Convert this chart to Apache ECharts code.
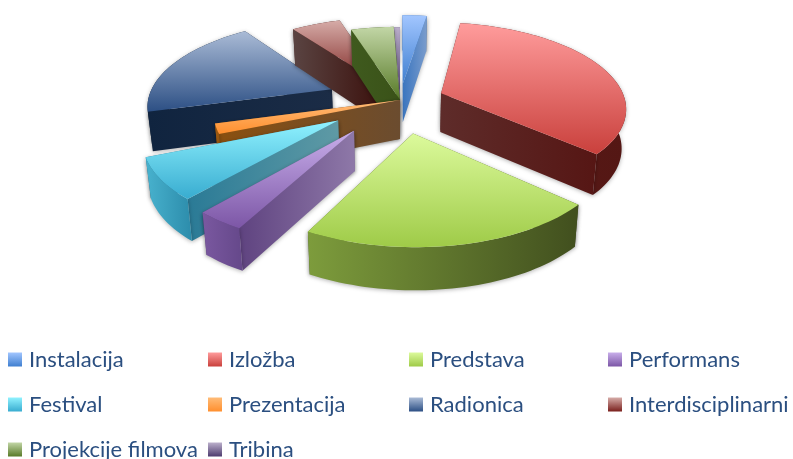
<!DOCTYPE html>
<html>
<head>
<meta charset="utf-8">
<style>html,body{margin:0;padding:0;background:#fff}#chart{width:793px;height:459px}</style>
<script src="https://cdn.jsdelivr.net/npm/echarts@6/dist/echarts.min.js"></script>
</head>
<body>
<div id="chart"></div>
<script>
// share of events per type (percent)
const categories = ["Instalacija", "Izložba", "Predstava", "Performans", "Festival", "Prezentacija", "Radionica", "Interdisciplinarni", "Projekcije filmova", "Tribina"];
const values = [2.5, 34.1, 21.1, 3.5, 7.5, 1.9, 19.3, 5.1, 4.3, 0.6];
// how far each slice is pulled out, as a fraction of the radius
const explode = [0.2, 0.24, 0.38, 0.42, 0.4, 0, 0.4, 0.18, 0.01, 0];

// back to front
const drawOrder = [6, 7, 9, 8, 0, 5, 1, 4, 3, 2];

const topColors = [
  ["#a2c6ff", "#3f7fd0"], ["#ff9c9c", "#c9403c"], ["#dcfa9c", "#9fcb48"], ["#c8aeea", "#7c56a6"], ["#90f2ff", "#38acd0"],
  ["#ffbc78", "#ff8f2e"], ["#aabbd6", "#2c4f84"], ["#d6aca8", "#7a1f1c"], ["#c2d6a6", "#587a28"], ["#bcb0cc", "#4d3b6e"]
];
const arcColors = [
  ["#3a75bf", "#3a75bf"], ["#5a1a18", "#541714"], ["#7d9c3c", "#414f1e"], ["#7a58a0", "#65488a"], ["#48b2ce", "#2c8cab"],
  ["#a05a10", "#8a5010"], ["#0f2036", "#10233c"], ["#5a2a28", "#3a0e0a"], ["#4a6a22", "#3a5218"], ["#5a4878", "#5a4878"]
];
const wallColors = [
  ["#3a75bf", "#7a9ccc"], ["#5e2c2a", "#561614"], ["#5a7428", "#414f1e"], ["#5f4380", "#8e78a8"], ["#2a7a96", "#5f9aa5"],
  ["#8a5010", "#6b4c2f"], ["#10243f", "#1b2c46"], ["#5a4442", "#3a0e0a"], ["#3f5a1e", "#3a5218"], ["#6d5a85", "#8a7a9e"]
];

const total = values.reduce((a, b) => a + b, 0);
const cx = 400, cy = 100, W = 184, H = 84, K = 0.157, DEPTH = 39;

function project(u, v, low) {
  const s = 1 / (1 - K * v);
  const x = cx + W * u * s * (low ? 0.98 : 1);
  const y = cy + H * v * s + (low ? DEPTH + 3 * v : 0);
  return [x, y];
}

function linear(stops, vertical) {
  return {
    type: "linear", x: 0, y: 0, x2: vertical ? 0 : 1, y2: vertical ? 1 : 0,
    colorStops: [{ offset: 0, color: stops[0] }, { offset: 1, color: stops[1] }]
  };
}

// Build the wedge for one slice from its value
function sliceChildren(index) {
  let from = 0;
  for (let i = 0; i < index; i++) from += values[i];
  const a0 = (from / total) * Math.PI * 2;
  const a1 = ((from + values[index]) / total) * Math.PI * 2;
  const mid = (a0 + a1) / 2;
  const ox = explode[index] * Math.sin(mid);
  const oy = -explode[index] * Math.cos(mid);

  const steps = Math.max(2, Math.ceil((a1 - a0) / 0.03));
  const rim = [];
  for (let i = 0; i <= steps; i++) {
    const a = a0 + ((a1 - a0) * i) / steps;
    rim.push([ox + Math.sin(a), oy - Math.cos(a)]);
  }
  const upper = (p) => project(p[0], p[1], false);
  const lower = (p) => project(p[0], p[1], true);
  const apex = [ox, oy];
  const first = rim[0];
  const last = rim[rim.length - 1];

  const shadow = { shadowBlur: 4, shadowColor: "rgba(0,0,0,0.3)", shadowOffsetY: 1 };
  const walls = [
    { pts: [upper(apex), upper(first), lower(first), lower(apex)], fill: linear(wallColors[index]) },
    { pts: [upper(apex), upper(last), lower(last), lower(apex)], fill: linear(wallColors[index]) },
    { pts: rim.map(upper).concat(rim.slice().reverse().map(lower)), fill: linear(arcColors[index]) }
  ];
  const meanY = (pts) => pts.reduce((s, p) => s + p[1], 0) / pts.length;
  walls.sort((a, b) => meanY(a.pts) - meanY(b.pts));

  const children = walls.map((w) => ({
    type: "polygon",
    shape: { points: w.pts },
    style: Object.assign({ fill: w.fill }, shadow)
  }));
  children.push({
    type: "polygon",
    shape: { points: [upper(apex)].concat(rim.map(upper)) },
    style: { fill: linear(topColors[index], true) }
  });
  return children;
}

const series = drawOrder.map((index) => ({
  type: "custom",
  name: categories[index],
  coordinateSystem: "none",
  silent: true,
  data: [values[index]],
  itemStyle: { color: topColors[index][1] },
  renderItem: () => ({ type: "group", children: sliceChildren(index) })
}));

// Legend is a 4 column grid, so every entry gets its own legend box
const legendLefts = [8, 208, 409, 608];
const legendTops = [346, 391, 436];

const legend = categories.map((name, i) => ({
  left: legendLefts[i % 4],
  top: legendTops[Math.floor(i / 4)],
  icon: "rect",
  itemWidth: 14,
  itemHeight: 14,
  padding: 0,
  selectedMode: false,
  textStyle: { fontFamily: "Lato", fontSize: 22, lineHeight: 27, color: "#2b4f80", padding: [0, 0, 0, 2] },
  data: [{ name: name, itemStyle: { color: linear(topColors[i], true), borderWidth: 0 } }]
}));

const chart = echarts.init(document.getElementById("chart"), null, { renderer: "canvas" });
chart.setOption({
  animation: false,
  backgroundColor: "#ffffff",
  legend: legend,
  series: series
});
</script>
</body>
</html>
